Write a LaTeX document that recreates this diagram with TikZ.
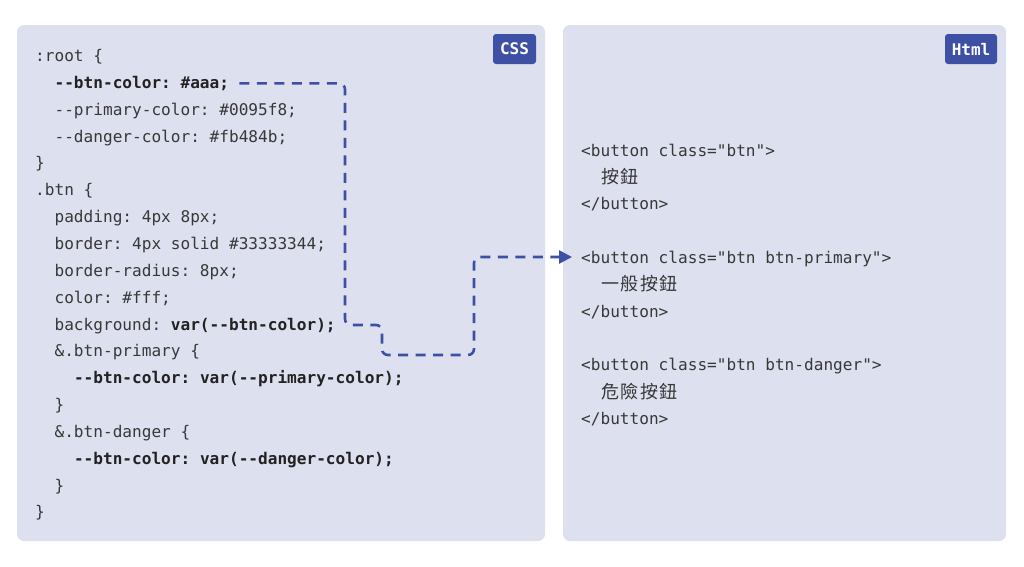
\documentclass[tikz,border=0pt]{standalone}
\usepackage{fontspec}
\setmonofont{DejaVu Sans Mono}
\newfontfamily\cjk{Noto Sans CJK TC}
\usetikzlibrary{arrows.meta}
\definecolor{panel}{HTML}{DDE0EF}
\definecolor{accent}{HTML}{3D50A3}
\definecolor{codec}{HTML}{383838}
\definecolor{boldc}{HTML}{222222}
\newcommand\cjc[1]{\makebox[19.4pt][c]{\cjk\fontsize{18}{18}\selectfont #1}}
\newcommand\bd[1]{{\bfseries\color{boldc}#1}}
\begin{document}
\begin{tikzpicture}[x=1pt,y=-1pt,
  panelbox/.style={fill=panel,rounded corners=7pt,draw=none,inner sep=0pt},
  badge/.style={fill=accent,rounded corners=3pt,text=white,inner sep=0pt,
    minimum height=30pt,font=\ttfamily\bfseries\fontsize{16}{16}\selectfont},
  code/.style={anchor=base west,inner sep=0pt,text=codec,
    font=\ttfamily\fontsize{16.1}{16}\selectfont},
  conn/.style={draw=accent,line width=2.6pt,dash pattern=on 10pt off 7.5pt,
    rounded corners=6pt,-{Triangle[length=13pt,width=13pt]}}]
\useasboundingbox[fill=white] (0,0) rectangle (1024,566);
% panels
\node[panelbox,minimum width=528pt,minimum height=516pt] (left) at (281,283) {};
\node[panelbox,minimum width=443pt,minimum height=516pt] (right) at (784.5,283) {};
\node[badge,minimum width=43pt] (cssb) at (514.5,49) {CSS};
\node[badge,minimum width=52pt] (htmlb) at (971,49) {Html};
% CSS code
\node[code] (l0) at (35,61.5) {:root \{};
\node[code] (c1) at (54.4,88.35) {\bd{--btn-color: \#aaa;}};
\node[code] (l2) at (54.4,115.2) {--primary-color: \#0095f8;};
\node[code] (l3) at (54.4,142.05) {--danger-color: \#fb484b;};
\node[code] (l4) at (35,168.9) {\}};
\node[code] (l5) at (35,195.75) {.btn \{};
\node[code] (l6) at (54.4,222.6) {padding: 4px 8px;};
\node[code] (l7) at (54.4,249.45) {border: 4px solid \#33333344;};
\node[code] (l8) at (54.4,276.3) {border-radius: 8px;};
\node[code] (l9) at (54.4,303.15) {color: \#fff;};
\node[code] (l10) at (54.4,330) {background: \bd{var(--btn-color);}};
\node[code] (l11) at (54.4,356.85) {\&.btn-primary \{};
\node[code] (l12) at (73.8,383.7) {\bd{--btn-color: var(--primary-color);}};
\node[code] (l13) at (54.4,410.55) {\}};
\node[code] (l14) at (54.4,437.4) {\&.btn-danger \{};
\node[code] (l15) at (73.8,464.25) {\bd{--btn-color: var(--danger-color);}};
\node[code] (l16) at (54.4,491.1) {\}};
\node[code] (l17) at (35,517.95) {\}};
% HTML code
\node[code] (h0) at (581,156) {<button class="btn">};
\node[code] (h1) at (600.4,183.5) {\cjc{按}\cjc{鈕}};
\node[code] (h2) at (581,209.7) {</button>};
\node[code] (h4) at (581,263.4) {<button class="btn btn-primary">};
\node[code] (h5) at (600.4,290.9) {\cjc{一}\cjc{般}\cjc{按}\cjc{鈕}};
\node[code] (h6) at (581,317.1) {</button>};
\node[code] (h8) at (581,370.8) {<button class="btn btn-danger">};
\node[code] (h9) at (600.4,398.3) {\cjc{危}\cjc{險}\cjc{按}\cjc{鈕}};
\node[code] (h10) at (581,424.5) {</button>};
% connector
\coordinate (tip) at (572,257);
\draw[conn] ([xshift=10pt]c1.east) -| (345,325) -| (382,355) -| (474,257) -- (tip);
\end{tikzpicture}
\end{document}
